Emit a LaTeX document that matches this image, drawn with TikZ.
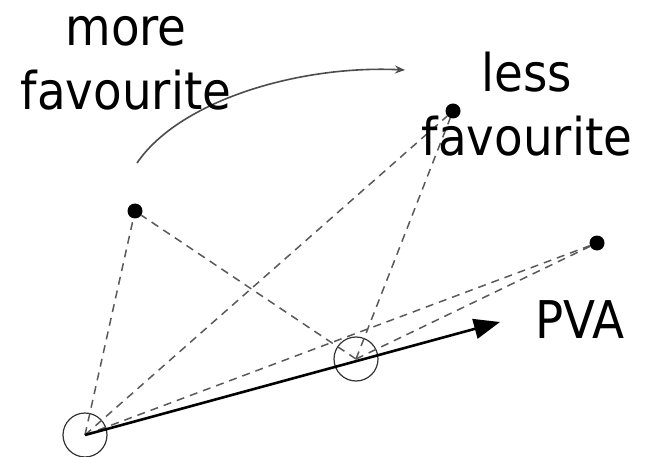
\documentclass[tikz,border=0pt]{standalone}
\usepackage{fontspec}
\newfontfamily\labfont{DejaVu Sans Condensed}
\usetikzlibrary{arrows.meta}
\begin{document}
\begin{tikzpicture}[x=1pt,y=-1pt,
  dot/.style={circle,fill=black,inner sep=0pt,minimum size=15pt},
  ring/.style={circle,draw=black!80,line width=1.2pt,inner sep=0pt,minimum size=44pt},
  dashline/.style={draw=black!65,line width=1.5pt,dash pattern=on 8pt off 6pt},
  lab/.style={font=\labfont\fontsize{52}{64}\selectfont,align=center,inner sep=0pt,anchor=base}
]
\useasboundingbox (0,0) rectangle (645,457);
\node[ring] (c1) at (85,435) {};
\node[ring] (c2) at (356,359) {};
\node[dot] (a) at (135,211) {};
\node[dot] (b) at (453,111) {};
\node[dot] (c) at (597,243) {};
\coordinate (pva) at (500,322);
\coordinate (cs) at (137,163);
\coordinate (ce) at (405,70);
\foreach \p in {a,b,c} {
  \draw[dashline] (c1.center) -- (\p);
  \draw[dashline] (c2.center) -- (\p);
}
\draw[line width=2.6pt,-{Triangle[length=26pt,width=20pt]}] (c1.center) -- (pva);
\draw[black!70,line width=1.6pt,-{Stealth[length=10pt,width=8pt]}] (cs) .. controls (180,100) and (300,65) .. (ce);
\node[lab] (more) at (126,110) {more\\favourite};
\node[lab] (less) at (527,156) {less\\favourite};
\node[lab] (pvalab) at (580,338) {PVA};
\end{tikzpicture}
\end{document}
